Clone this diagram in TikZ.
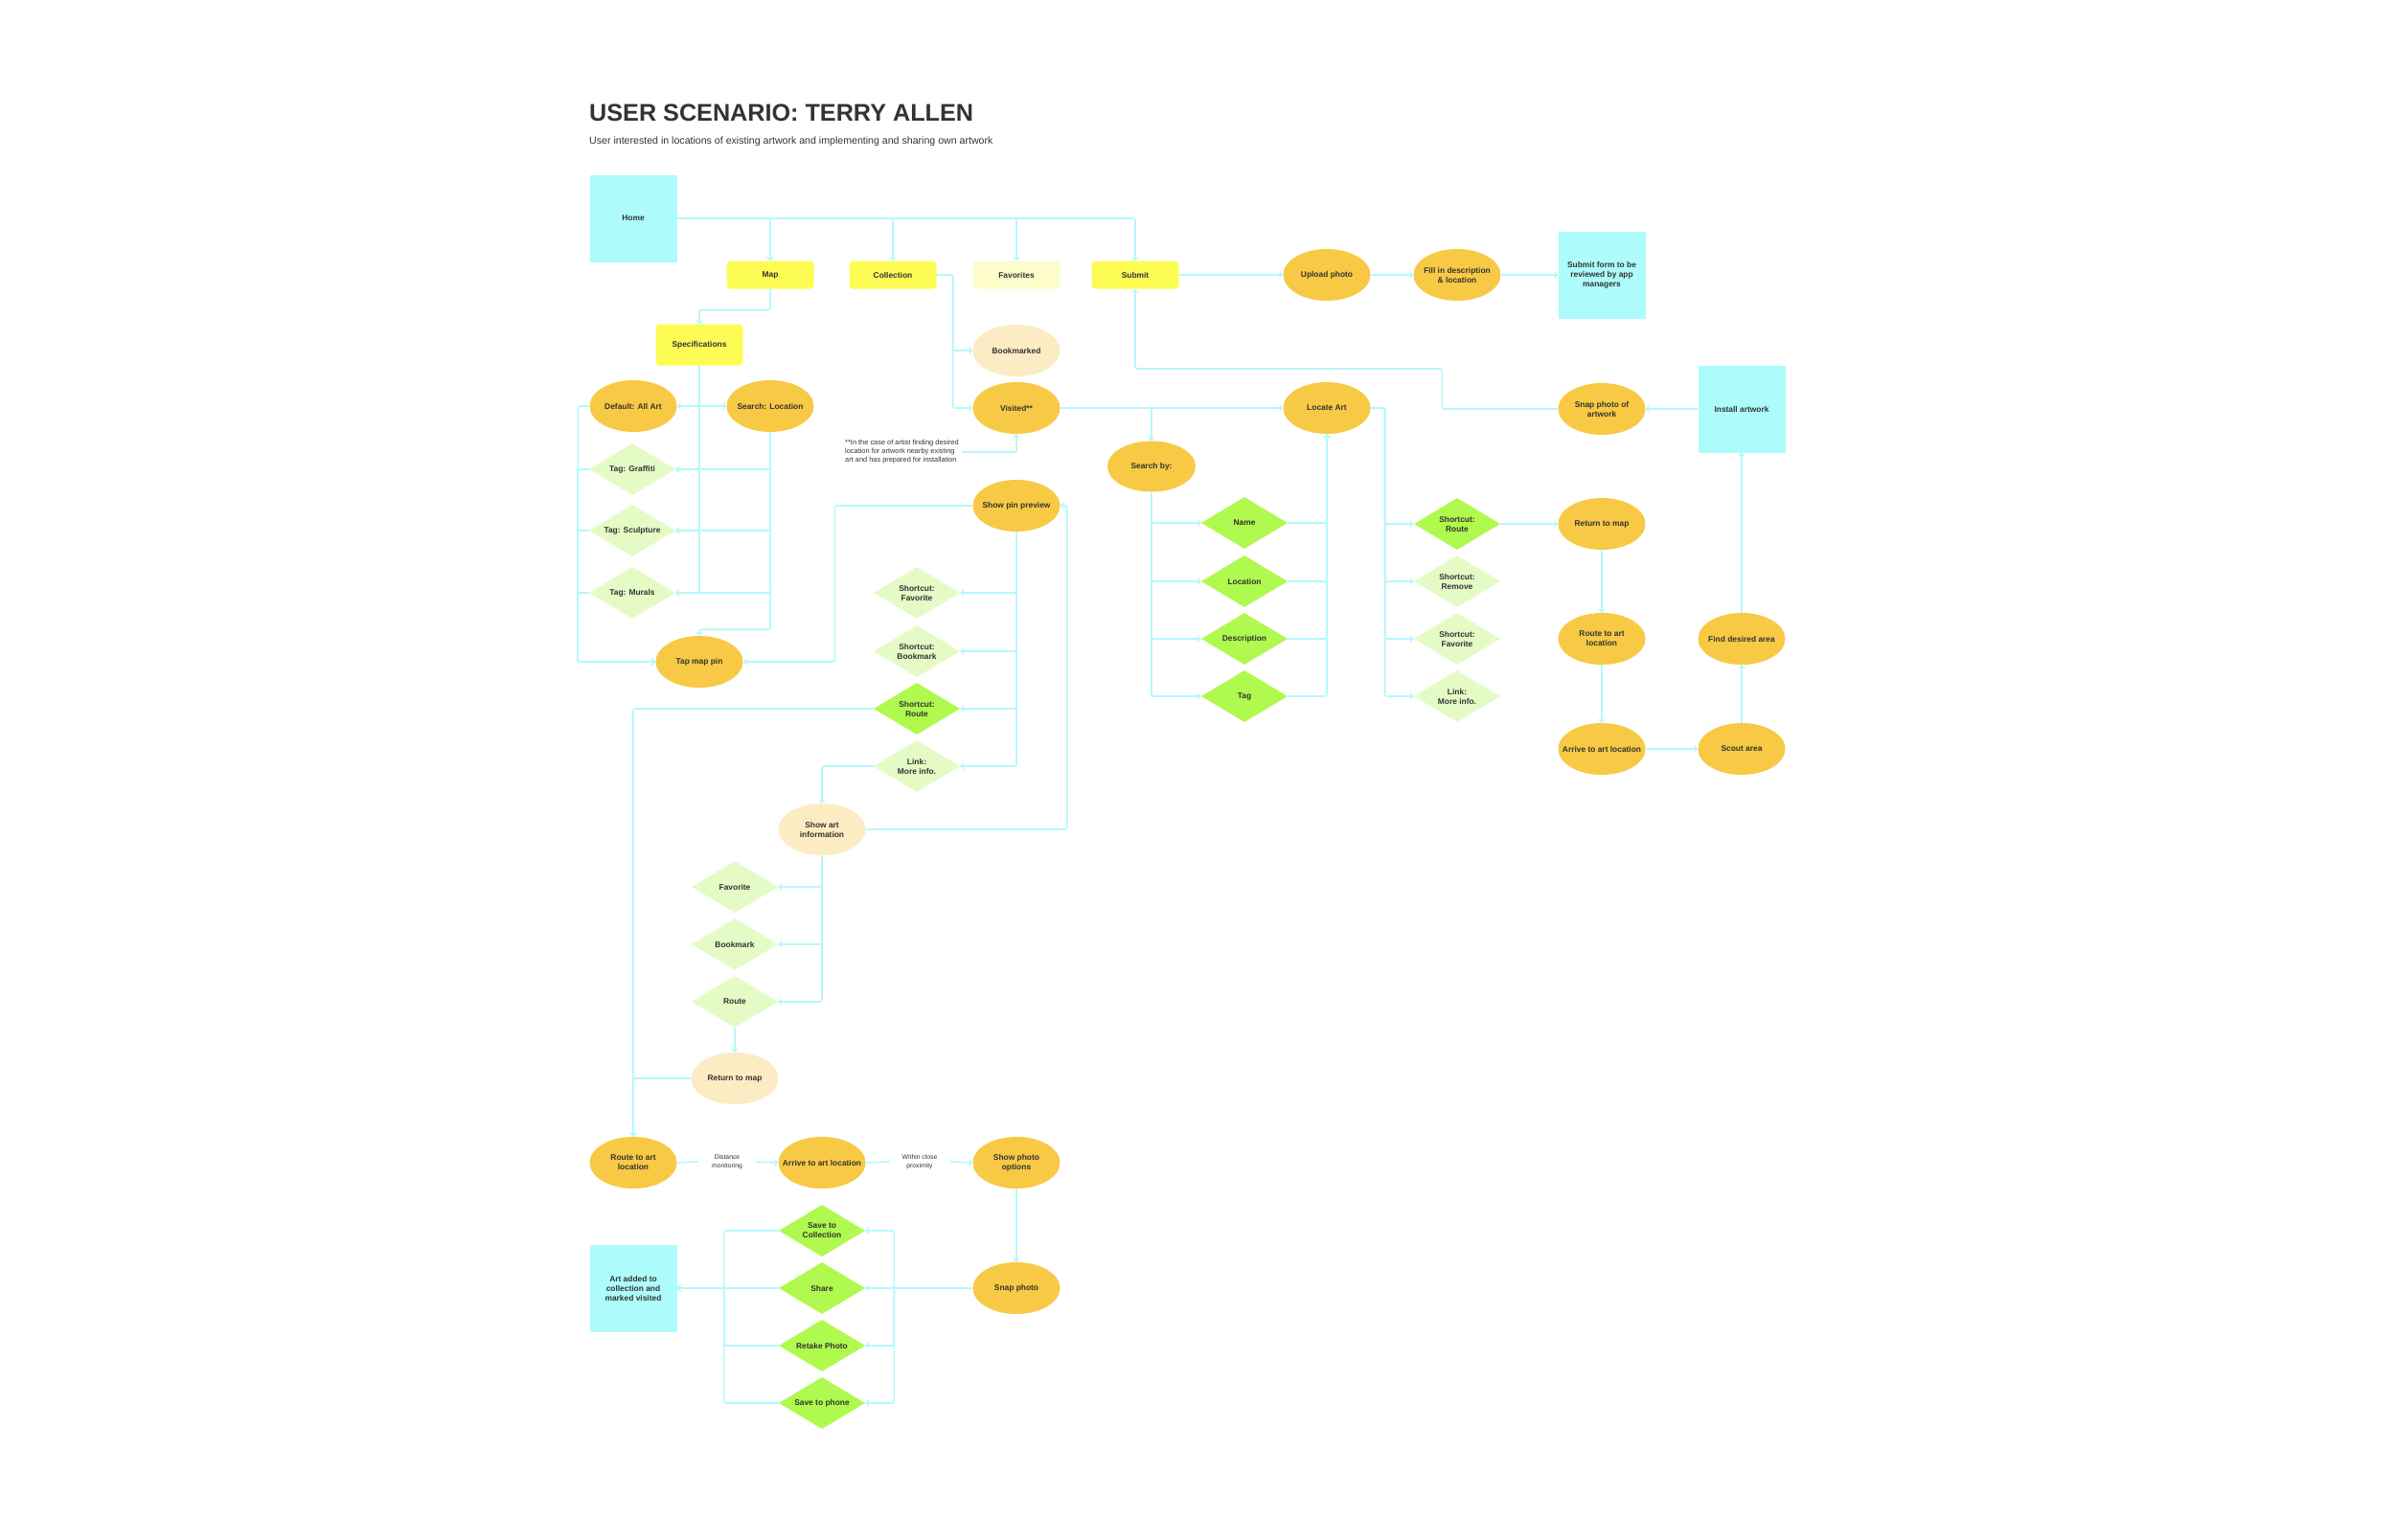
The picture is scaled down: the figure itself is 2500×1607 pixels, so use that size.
\documentclass[tikz,border=0pt]{standalone}
\usepackage{fontspec}
\setmainfont{Liberation Sans}
\usetikzlibrary{shapes.geometric}

\definecolor{screencyan}{HTML}{ADFCFB}
\definecolor{tabyellow}{HTML}{FDFC54}
\definecolor{tabpale}{HTML}{FDFCCB}
\definecolor{stepgold}{HTML}{F8C944}
\definecolor{stepcream}{HTML}{FCECC3}
\definecolor{pickgreen}{HTML}{B0F94E}
\definecolor{pickpale}{HTML}{E4FBC6}
\definecolor{wire}{HTML}{B5F8FA}
\definecolor{ink}{HTML}{333333}

\tikzset{
  txt/.style={font=\fontsize{8.4}{10}\selectfont\bfseries, text=ink, align=center, inner sep=0pt},
  screen/.style={rectangle, fill=screencyan, minimum width=91pt, minimum height=91pt, label={[txt]center:{#1}}},
  tab/.style={rectangle, rounded corners=4pt, fill=tabyellow, minimum width=91pt, minimum height=29pt, label={[txt]center:{#1}}},
  oval/.style={ellipse, fill=stepgold, minimum width=91pt, minimum height=54pt, inner sep=0pt, label={[txt]center:{#1}}},
  pick/.style={diamond, fill=pickgreen, minimum width=90pt, minimum height=54pt, inner sep=0pt, label={[txt]center:{#1}}},
  link/.style={->, draw=wire, line width=1.6pt, rounded corners=2pt},
  wireline/.style={draw=wire, line width=1.6pt},
  aside/.style={font=\fontsize{6.8}{9}\selectfont, text=ink, align=center, inner ysep=2pt, inner xsep=14pt},
}

\begin{document}
\begin{tikzpicture}[x=1pt,y=-1pt]
\fill[white] (0,0) rectangle (2500,1607);
\useasboundingbox (0,0) rectangle (2500,1607);

% heading
\node[anchor=base west, inner sep=0pt, text=ink, font=\fontsize{25.2}{30}\selectfont\bfseries] (title) at (615,126) {USER SCENARIO: TERRY ALLEN};
\node[anchor=base west, inner sep=0pt, text=ink, font=\fontsize{10.6}{12}\selectfont] (subtitle) at (615,150) {User interested in locations of existing artwork and implementing and sharing own artwork};

% top row
\node[screen={Home}] (home) at (661,228) {};
\node[tab={Map}] (map) at (804,287) {};
\node[tab={Collection}] (coll) at (932,287) {};
\node[tab={Favorites}, fill=tabpale] (fav) at (1061,287) {};
\node[tab={Submit}] (submit) at (1185,287) {};
\node[oval={Upload photo}] (upload) at (1385,287) {};
\node[oval={Fill in description\\\& location}] (fill) at (1521,287) {};
\node[screen={Submit form to be\\reviewed by app\\managers}] (subform) at (1672,287) {};

% map branch
\node[tab={Specifications}, minimum height=43pt] (spec) at (730,360) {};
\node[oval={Default: All Art}] (default) at (661,424) {};
\node[oval={Search: Location}] (searchloc) at (804,424) {};
\node[pick={Tag: Graffiti}, fill=pickpale] (graffiti) at (660,490) {};
\node[pick={Tag: Sculpture}, fill=pickpale] (sculpt) at (660,554) {};
\node[pick={Tag: Murals}, fill=pickpale] (murals) at (660,619) {};
\node[oval={Tap map pin}] (tappin) at (730,691) {};

% collection branch
\node[oval={Bookmarked}, fill=stepcream] (bookm) at (1061,366) {};
\node[oval={Visited**}] (visited) at (1061,426) {};
\node[anchor=west, align=left, inner xsep=3pt, text=ink, font=\fontsize{7.4}{9}\selectfont] (note) at (879,472) {**In the case of artist finding desired\\location for artwork nearby existing\\art and has prepared for installation};
\node[oval={Show pin preview}] (pinprev) at (1061,528) {};
\node[pick={Shortcut:\\Favorite}, fill=pickpale] (scfav) at (957,619) {};
\node[pick={Shortcut:\\Bookmark}, fill=pickpale] (scbook) at (957,680) {};
\node[pick={Shortcut:\\Route}] (scroute) at (957,740) {};
\node[pick={Link:\\More info.}, fill=pickpale] (sclink) at (957,800) {};
\node[oval={Show art\\information}, fill=stepcream] (artinfo) at (858,866) {};
\node[pick={Favorite}, fill=pickpale] (fav2) at (767,926) {};
\node[pick={Bookmark}, fill=pickpale] (bookm2) at (767,986) {};
\node[pick={Route}, fill=pickpale] (route2) at (767,1046) {};
\node[oval={Return to map}, fill=stepcream] (retmap) at (767,1126) {};

% bottom row
\node[oval={Route to art\\location}] (routeart) at (661,1214) {};
\node[aside] (distlbl) at (759,1213) {Distance\\monitoring};
\node[oval={Arrive to art location}] (arrive) at (858,1214) {};
\node[aside, inner xsep=13pt] (proxlbl) at (960,1213) {Within close\\proximity};
\node[oval={Show photo\\options}] (showphoto) at (1061,1214) {};
\node[oval={Snap photo}] (snap) at (1061,1345) {};
\node[pick={Save to\\Collection}] (savecoll) at (858,1285) {};
\node[pick={Share}] (share) at (858,1345) {};
\node[pick={Retake Photo}] (retake) at (858,1405) {};
\node[pick={Save to phone}] (savephone) at (858,1465) {};
\node[screen={Art added to\\collection and\\marked visited}] (artadded) at (661,1345) {};

% search and locate
\node[oval={Search by:}, minimum width=92pt, minimum height=53pt] (searchby) at (1202,487) {};
\node[pick={Name}] (named) at (1299,546) {};
\node[pick={Location}] (locd) at (1299,607) {};
\node[pick={Description}] (desc) at (1299,667) {};
\node[pick={Tag}] (tagd) at (1299,727) {};
\node[oval={Locate Art}] (locate) at (1385,426) {};
\node[pick={Shortcut:\\Route}] (scroute2) at (1521,547) {};
\node[pick={Shortcut:\\Remove}, fill=pickpale] (scremove) at (1521,607) {};
\node[pick={Shortcut:\\Favorite}, fill=pickpale] (scfav2) at (1521,667) {};
\node[pick={Link:\\More info.}, fill=pickpale] (sclink2) at (1521,727) {};

% install branch
\node[oval={Snap photo of\\artwork}] (snapart) at (1672,427) {};
\node[screen={Install artwork}] (install) at (1818,427) {};
\node[oval={Return to map}] (retmap2) at (1672,547) {};
\node[oval={Route to art\\location}] (routeart2) at (1672,667) {};
\node[oval={Arrive to art location}] (arrive2) at (1672,782) {};
\node[oval={Find desired area}] (find) at (1818,667) {};
\node[oval={Scout area}] (scout) at (1818,782) {};

% connectors: top
\draw[link] (home.east) -| (map.north);
\draw[link] (home.east) -| (coll.north);
\draw[link] (home.east) -| (fav.north);
\draw[link] (home.east) -| (submit.north);
\draw[link] (map.south) -- ++(0,22) -| (spec.north);
\draw[link] (coll.east) -- ++(17,0) |- (bookm.west);
\draw[link] (coll.east) -- ++(17,0) |- (visited.west);
\draw[link] (submit.east) -- (upload.west);
\draw[link] (upload.east) -- (fill.west);
\draw[link] (fill.east) -- (subform.west);

% connectors: map
\draw[link] (spec.south) |- (default.east);
\draw[link] (spec.south) |- (searchloc.west);
\draw[link] (spec.south) |- (graffiti.east);
\draw[link] (spec.south) |- (sculpt.east);
\draw[link] (spec.south) |- (murals.east);
\draw[link] (searchloc.south) |- (graffiti.east);
\draw[link] (searchloc.south) |- (sculpt.east);
\draw[link] (searchloc.south) |- (murals.east);
\draw[link] (searchloc.south) -- ++(0,206) -| (tappin.north);
\draw[link] (default.west) -- ++(-12,0) |- (tappin.west);
\draw[link] (graffiti.west) -- ++(-12,0) |- (tappin.west);
\draw[link] (sculpt.west) -- ++(-12,0) |- (tappin.west);
\draw[link] (murals.west) -- ++(-12,0) |- (tappin.west);
\draw[link] (pinprev.west) -- ++(-144,0) |- (tappin.east);

% connectors: pin preview
\draw[link] (note.east) -| (visited.south);
\draw[link] (pinprev.south) |- (scfav.east);
\draw[link] (pinprev.south) |- (scbook.east);
\draw[link] (pinprev.south) |- (scroute.east);
\draw[link] (pinprev.south) |- (sclink.east);
\draw[link] (scroute.west) -| (routeart.north);
\draw[link] (sclink.west) -| (artinfo.north);
\draw[link] (artinfo.east) -- ++(210,0) |- (pinprev.east);
\draw[link] (artinfo.south) |- (fav2.east);
\draw[link] (artinfo.south) |- (bookm2.east);
\draw[link] (artinfo.south) |- (route2.east);
\draw[link] (route2.south) -- (retmap.north);
\draw[link] (retmap.west) -| (routeart.north);

% connectors: bottom
\draw[wireline] (routeart.east) -- (distlbl.west);
\draw[link] (distlbl.east) -- (arrive.west);
\draw[wireline] (arrive.east) -- (proxlbl.west);
\draw[link] (proxlbl.east) -- (showphoto.west);
\draw[link] (showphoto.south) -- (snap.north);
\draw[link] (snap.west) -- ++(-82,0) |- (savecoll.east);
\draw[link] (snap.west) -- ++(-82,0) |- (share.east);
\draw[link] (snap.west) -- ++(-82,0) |- (retake.east);
\draw[link] (snap.west) -- ++(-82,0) |- (savephone.east);
\draw[link] (savecoll.west) -- ++(-57,0) |- (artadded.east);
\draw[link] (share.west) -- (artadded.east);
\draw[link] (retake.west) -- ++(-57,0) |- (artadded.east);
\draw[link] (savephone.west) -- ++(-57,0) |- (artadded.east);

% connectors: search and locate
\draw[link] (visited.east) -- (locate.west);
\draw[link] (visited.east) -| (searchby.north);
\draw[link] (searchby.south) |- (named.west);
\draw[link] (searchby.south) |- (locd.west);
\draw[link] (searchby.south) |- (desc.west);
\draw[link] (searchby.south) |- (tagd.west);
\draw[link] (named.east) -| (locate.south);
\draw[link] (locd.east) -| (locate.south);
\draw[link] (desc.east) -| (locate.south);
\draw[link] (tagd.east) -| (locate.south);
\draw[link] (locate.east) -- ++(15,0) |- (scroute2.west);
\draw[link] (locate.east) -- ++(15,0) |- (scremove.west);
\draw[link] (locate.east) -- ++(15,0) |- (scfav2.west);
\draw[link] (locate.east) -- ++(15,0) |- (sclink2.west);

% connectors: install
\draw[link] (scroute2.east) -- (retmap2.west);
\draw[link] (retmap2.south) -- (routeart2.north);
\draw[link] (routeart2.south) -- (arrive2.north);
\draw[link] (arrive2.east) -- (scout.west);
\draw[link] (scout.north) -- (find.south);
\draw[link] (find.north) -- (install.south);
\draw[link] (install.west) -- (snapart.east);
\draw[link] (snapart.west) -- ++(-121,0) -- ++(0,-42) -| (submit.south);
\end{tikzpicture}
\end{document}
